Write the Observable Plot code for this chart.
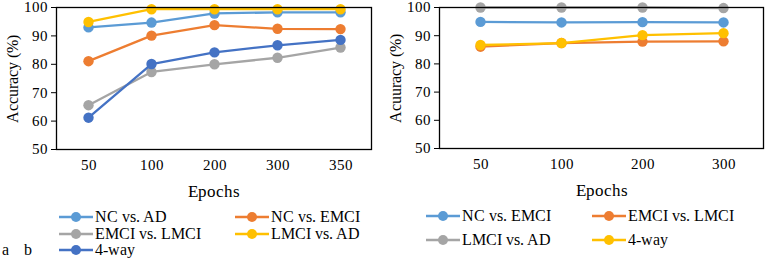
<!DOCTYPE html>
<html>
<head>
<meta charset="utf-8">
<script src="https://cdn.jsdelivr.net/npm/d3@7"></script>
<script src="https://cdn.jsdelivr.net/npm/@observablehq/plot@0.6"></script>
<style>
  @font-face { font-family: "ChartSerif"; src: local("Liberation Serif"), local("LiberationSerif"), local("LiberationSerif-Regular"); }
</style>
</head>
<body style="margin:0;background:#fff">
<div id="row" style="display:flex;width:765px;height:200px"></div>
<div id="leg" style="width:765px;height:58px"></div>
<script>
// ---- Data: panel a ----
const epochsA = ["50", "100", "200", "300", "350"];
const ncVsAdA = [93.0, 94.7, 97.9, 98.3, 98.3];
const ncVsEmciA = [81.1, 90.1, 93.8, 92.5, 92.4];
const emciVsLmciA = [65.6, 77.3, 80.0, 82.3, 85.9];
const lmciVsAdA = [94.9, 99.4, 99.4, 99.4, 99.4];
const fourWayA = [61.2, 80.1, 84.2, 86.7, 88.6];
const seriesNamesA = ["NC vs. AD", "NC vs. EMCI", "EMCI vs. LMCI", "LMCI vs. AD", "4-way"];

// ---- Data: panel b ----
const epochsB = ["50", "100", "200", "300"];
const ncVsEmciB = [94.9, 94.7, 94.8, 94.7];
const emciVsLmciB = [86.1, 87.4, 87.9, 88.0];
const lmciVsAdB = [100, 100, 100, 99.8];
const fourWayB = [86.7, 87.4, 90.2, 90.9];
const seriesNamesB = ["NC vs. EMCI", "EMCI vs. LMCI", "LMCI vs. AD", "4-way"];

const yTicks = [50, 60, 70, 80, 90, 100];
const xTitle = "Epochs";
const yTitleA = "Accuracy (%)";
const yTitleB = "Acuuracy (%)";
const panelLabels = ["a", "b"];

// ---- Styles ----
const FONT = "'ChartSerif', 'Liberation Serif', 'Times New Roman', serif";
const C = {lightBlue: "#5B9BD5", orange: "#ED7D31", gray: "#A5A5A5", yellow: "#FFC000", darkBlue: "#4472C4"};
const colorsA = [C.lightBlue, C.orange, C.gray, C.yellow, C.darkBlue];
const colorsB = [C.lightBlue, C.orange, C.gray, C.yellow];

function makeRows(epochs, valuesList, names) {
  return valuesList.map((vals, i) => vals.map((v, j) => ({epoch: epochs[j], value: v, series: names[i]})));
}

function panel({epochs, valuesList, names, colors, width, marginLeft, marginRight, marginBottom, yTitle}) {
  const rows = makeRows(epochs, valuesList, names);
  const marks = [];
  rows.forEach((r, i) => {
    marks.push(Plot.line(r, {x: "epoch", y: "value", stroke: colors[i], strokeWidth: 2.3}));
    marks.push(Plot.dot(r, {x: "epoch", y: "value", fill: colors[i], r: 5.2, stroke: "none"}));
  });
  marks.push(Plot.frame({stroke: "black", strokeWidth: 1.3}));
  marks.push(Plot.axisY({ticks: yTicks, tickSize: 5, tickPadding: 4, label: null, fontSize: 15}));
  marks.push(Plot.axisX({tickSize: 0, tickPadding: 10, label: null, fontSize: 15}));
  marks.push(Plot.text([xTitle], {frameAnchor: "bottom", dy: 42, lineAnchor: "middle", textAnchor: "middle", fontSize: 17, fill: "black"}));
  marks.push(Plot.text([yTitle], {frameAnchor: "left", dx: -44, rotate: -90, textAnchor: "middle", lineAnchor: "middle", fontSize: 16, fill: "black"}));
  return Plot.plot({
    width, height: 200,
    marginTop: 7, marginBottom, marginLeft, marginRight,
    x: {type: "point", domain: epochs, padding: 0.5},
    y: {domain: [50, 100]},
    style: {fontFamily: FONT, fontSize: "15px", color: "black", background: "transparent", overflow: "visible"},
    marks
  });
}

const row = document.getElementById("row");

const dA = document.createElement("div");
dA.style.cssText = "width:385px;height:200px;flex:none";
dA.appendChild(panel({
  epochs: epochsA,
  valuesList: [ncVsAdA, ncVsEmciA, emciVsLmciA, lmciVsAdA, fourWayA],
  names: seriesNamesA, colors: colorsA,
  width: 385, marginLeft: 56, marginRight: 14, marginBottom: 51, yTitle: yTitleA
}));
row.appendChild(dA);

const dB = document.createElement("div");
dB.style.cssText = "width:380px;height:200px;flex:none";
dB.appendChild(panel({
  epochs: epochsB,
  valuesList: [ncVsEmciB, emciVsLmciB, lmciVsAdB, fourWayB],
  names: seriesNamesB, colors: colorsB,
  width: 380, marginLeft: 54, marginRight: 2, marginBottom: 52, yTitle: yTitleB
}));
row.appendChild(dB);

// ---- Legends (below the charts) ----
const svg = d3.create("svg").attr("width", 765).attr("height", 58)
  .attr("font-family", "Liberation Serif").attr("font-size", 16)
  .style("display", "block").style("font-family", FONT);

function legendItem(x, y, color, label) {
  const g = svg.append("g").attr("transform", `translate(${x},${y})`);
  g.append("line").attr("x1", 0).attr("x2", 34).attr("y1", 0).attr("y2", 0)
    .attr("stroke", color).attr("stroke-width", 2.3);
  g.append("circle").attr("cx", 17).attr("cy", 0).attr("r", 5).attr("fill", color);
  g.append("text").attr("x", 36).attr("y", 0).attr("dy", "0.32em").attr("fill", "black").text(label);
}

const legendPosA = [[59, 17], [235, 17], [59, 34], [235, 34], [59, 50]];
seriesNamesA.forEach((n, i) => legendItem(legendPosA[i][0], legendPosA[i][1], colorsA[i], n));
const legendPosB = [[426, 16], [592, 16], [426, 40], [592, 40]];
seriesNamesB.forEach((n, i) => legendItem(legendPosB[i][0], legendPosB[i][1], colorsB[i], n));

svg.append("text").attr("x", 2).attr("y", 50).attr("dy", "0.32em").attr("fill", "black").text(panelLabels[0]);
svg.append("text").attr("x", 24).attr("y", 50).attr("dy", "0.32em").attr("fill", "black").text(panelLabels[1]);

document.getElementById("leg").appendChild(svg.node());
</script>
</body>
</html>
